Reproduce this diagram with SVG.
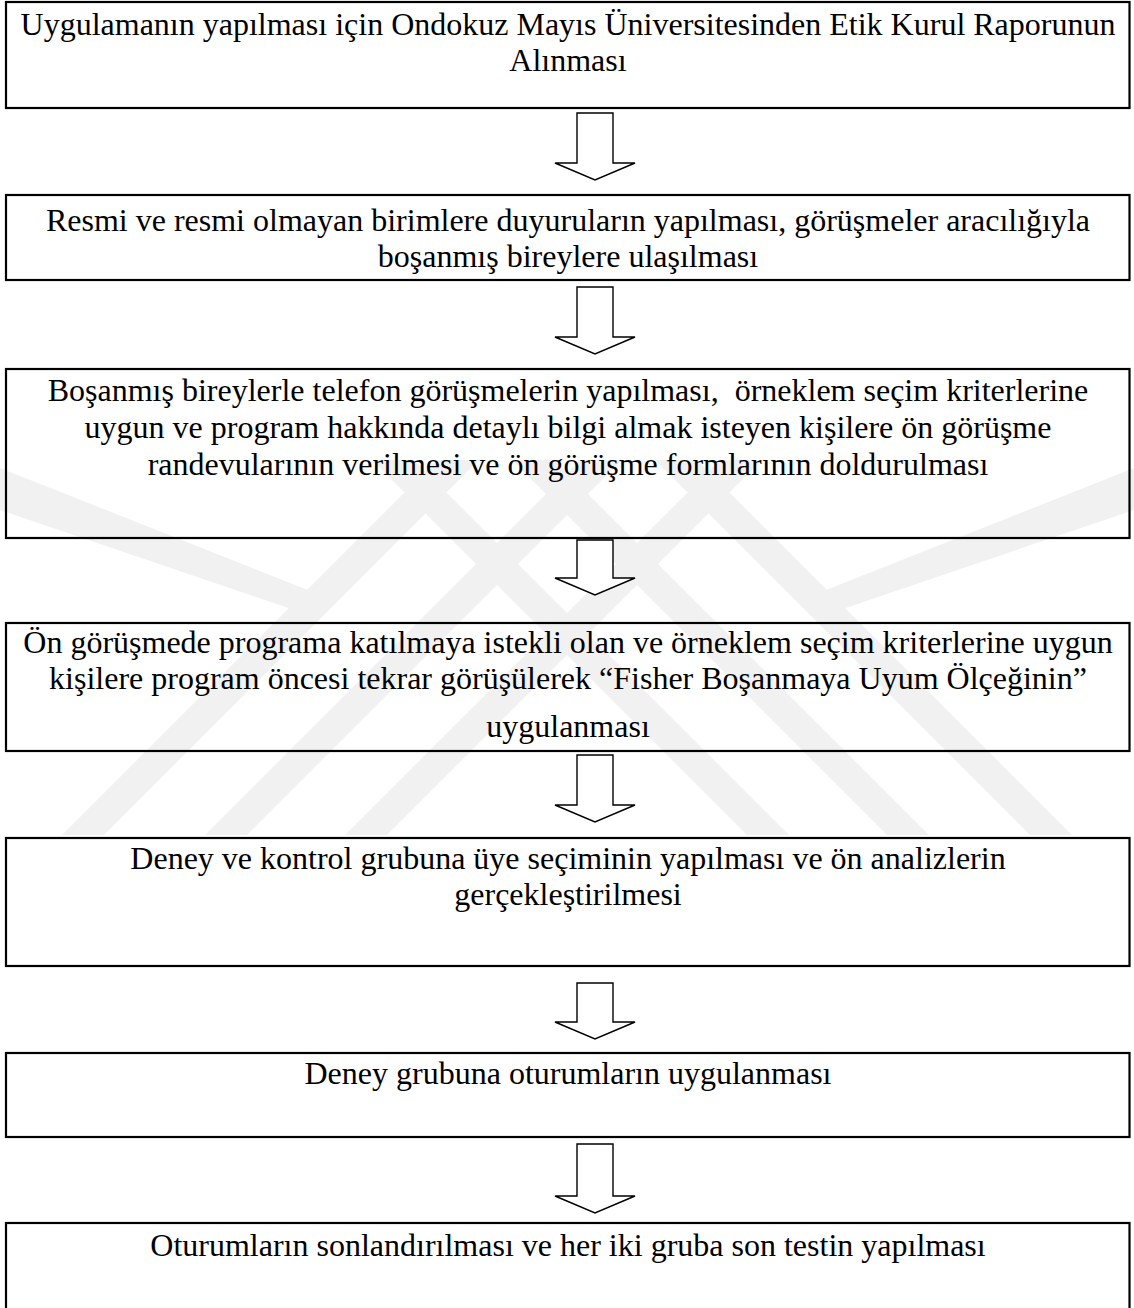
<svg xmlns="http://www.w3.org/2000/svg" width="1134" height="1308" viewBox="0 0 1134 1308">
  <style>
    .box { fill: none; stroke: #000; stroke-width: 2.2; }
    .arrow { fill: #fff; stroke: #000; stroke-width: 1.4; stroke-linejoin: miter; }
    .wm { fill: #f1f1f1; }
    text { font-family: "Liberation Serif", "Times New Roman", serif; font-size: 32px; fill: #000; text-anchor: middle; white-space: pre; }
  </style>
  <rect width="1134" height="1308" fill="#fff"/>

  <g id="watermark">
    <polygon class="wm" points="62,835 104,835 479,460 437,460"/>
    <polygon class="wm" points="205,835 247,835 622,460 580,460"/>
    <polygon class="wm" points="345,835 387,835 762,460 720,460"/>
    <polygon class="wm" points="1072,835 1030,835 655,460 697,460"/>
    <polygon class="wm" points="929,835 887,835 512,460 554,460"/>
    <polygon class="wm" points="789,835 747,835 372,460 414,460"/>
    <polygon class="wm" points="0,468 0,510 300,612 318,594"/>
    <polygon class="wm" points="1134,468 1134,510 834,612 816,594"/>
  </g>

  <g id="node1">
    <rect class="box" x="6" y="2" width="1123.5" height="106"/>
    <text x="568" y="35">Uygulamanın yapılması için Ondokuz Mayıs Üniversitesinden Etik Kurul Raporunun</text>
    <text x="568" y="71">Alınması</text>
  </g>
  <g id="node2">
    <rect class="box" x="6" y="195" width="1123.5" height="85"/>
    <text x="568" y="231">Resmi ve resmi olmayan birimlere duyuruların yapılması, görüşmeler aracılığıyla</text>
    <text x="568" y="267">boşanmış bireylere ulaşılması</text>
  </g>
  <g id="node3">
    <rect class="box" x="6" y="369" width="1123.5" height="169"/>
    <text x="568" y="401" xml:space="preserve">Boşanmış bireylerle telefon görüşmelerin yapılması,  örneklem seçim kriterlerine</text>
    <text x="568" y="438">uygun ve program hakkında detaylı bilgi almak isteyen kişilere ön görüşme</text>
    <text x="568" y="475">randevularının verilmesi ve ön görüşme formlarının doldurulması</text>
  </g>
  <g id="node4">
    <rect class="box" x="6" y="623" width="1123.5" height="128"/>
    <text x="568" y="653">Ön görüşmede programa katılmaya istekli olan ve örneklem seçim kriterlerine uygun</text>
    <text x="568" y="689">kişilere program öncesi tekrar görüşülerek “Fisher Boşanmaya Uyum Ölçeğinin”</text>
    <text x="568" y="737">uygulanması</text>
  </g>
  <g id="node5">
    <rect class="box" x="6" y="838" width="1123.5" height="128"/>
    <text x="568" y="869">Deney ve kontrol grubuna üye seçiminin yapılması ve ön analizlerin</text>
    <text x="568" y="905">gerçekleştirilmesi</text>
  </g>
  <g id="node6">
    <rect class="box" x="6" y="1053" width="1123.5" height="84"/>
    <text x="568" y="1084">Deney grubuna oturumların uygulanması</text>
  </g>
  <g id="node7">
    <rect class="box" x="6" y="1223" width="1123.5" height="120"/>
    <text x="568" y="1256">Oturumların sonlandırılması ve her iki gruba son testin yapılması</text>
  </g>

  <g id="connectors">
    <polygon class="arrow" points="577,113 613,113 613,163 635,163 595,180 555,163 577,163"/>
    <polygon class="arrow" points="577,287 613,287 613,337 635,337 595,354 555,337 577,337"/>
    <polygon class="arrow" points="577,540 613,540 613,578 635,578 595,595 555,578 577,578"/>
    <polygon class="arrow" points="577,755 613,755 613,805 635,805 595,822 555,805 577,805"/>
    <polygon class="arrow" points="577,983 613,983 613,1022 635,1022 595,1039 555,1022 577,1022"/>
    <polygon class="arrow" points="577,1144 613,1144 613,1196 635,1196 595,1213 555,1196 577,1196"/>
  </g>
</svg>
